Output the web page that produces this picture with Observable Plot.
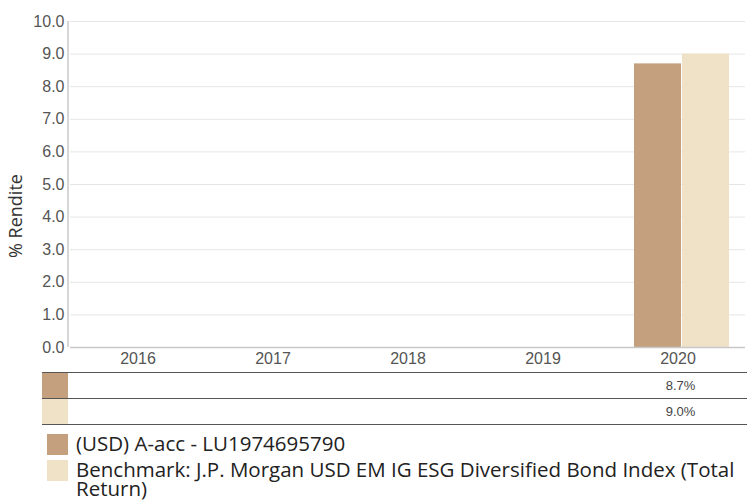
<!DOCTYPE html>
<html>
<head>
<meta charset="utf-8">
<script src="https://cdn.jsdelivr.net/npm/d3@7"></script>
<script src="https://cdn.jsdelivr.net/npm/@observablehq/plot@0.6"></script>
<style>
  body { margin: 0; background: #fff; }
  #wrap { position: relative; width: 747px; height: 503px; overflow: hidden; font-family: "Open Sans", sans-serif; }
  #chart svg { display: block; }
  #table { position: absolute; left: 42px; top: 372px; width: 705px; }
  .row { position: relative; height: 25px; border-top: 1.5px solid #555; }
  .row:last-child { border-bottom: 1.5px solid #555; }
  .sw { position: absolute; left: 0; top: 0; width: 26px; height: 25px; }
  .val { position: absolute; top: 0; height: 25px; line-height: 25px; font-family: "Liberation Sans", Arial, sans-serif; font-size: 13px; color: #444; text-align: center; }
  #legend { position: absolute; left: 47px; top: 434px; width: 700px; }
  .li { position: relative; padding-left: 29px; font-size: 20.5px; line-height: 19px; color: #222; margin-bottom: 7px; }
  .li .box { position: absolute; left: 0; top: 0px; width: 21px; height: 21px; }
</style>
</head>
<body>
<div id="wrap">
  <div id="chart"></div>
  <div id="table"></div>
  <div id="legend"></div>
</div>
<script>
const years = ["2016", "2017", "2018", "2019", "2020"];
const seriesNames = ["(USD) A-acc - LU1974695790", "Benchmark: J.P. Morgan USD EM IG ESG Diversified Bond Index (Total Return)"];
const fundValues = [null, null, null, null, 8.7];
const benchValues = [null, null, null, null, 9.0];
const colors = ["#c4a07f", "#efe2c6"];
const yTicks = [0, 1, 2, 3, 4, 5, 6, 7, 8, 9, 10];
const yLabel = "% Rendite";

const data = [];
years.forEach((y, i) => {
  if (fundValues[i] != null) data.push({year: y, series: seriesNames[0], value: fundValues[i]});
  if (benchValues[i] != null) data.push({year: y, series: seriesNames[1], value: benchValues[i]});
});
const gridData = years.flatMap(y => yTicks.map(t => ({year: y, t})));

const chart = Plot.plot({
  width: 747,
  height: 372,
  marginLeft: 68,
  marginRight: 0,
  marginTop: 21,
  marginBottom: 25,
  style: {fontFamily: "'Liberation Sans', Arial, sans-serif", fontSize: "16px", color: "#555"},
  fx: {domain: years, padding: 0, axis: "bottom", label: null, tickSize: 0, tickPadding: 5},
  x: {domain: seriesNames, paddingInner: 0.03, paddingOuter: 0.42, align: 0.6, axis: null},
  y: {domain: [0, 10], ticks: yTicks, tickFormat: d3.format(".1f"), label: null, tickSize: 0, tickPadding: 6},
  color: {domain: seriesNames, range: colors},
  marks: [
    Plot.ruleY(gridData, {fx: "year", y: "t", stroke: "#e6e6e6", strokeWidth: 1}),
    Plot.barY(data, {fx: "year", x: "series", y: "value", fill: "series"}),
    Plot.ruleY(years.map(y => ({year: y, t: 0})), {fx: "year", y: "t", stroke: "#c8c8c8", strokeWidth: 1.5})
  ]
});
document.getElementById("chart").appendChild(chart);

const svg = d3.select(chart);
const ys = chart.scale("y");
// left axis line
svg.append("line")
  .attr("x1", 68).attr("x2", 68)
  .attr("y1", ys.apply(10)).attr("y2", ys.apply(0))
  .attr("stroke", "#c8c8c8").attr("stroke-width", 1.5);
// y label
svg.append("text")
  .attr("transform", `translate(17,216) rotate(-90)`)
  .attr("text-anchor", "middle")
  .attr("dominant-baseline", "middle")
  .style("font-family", "'Open Sans', sans-serif").style("font-size", "18px").style("fill", "#333")
  .text(yLabel);

// table
const fxs = chart.scale("fx");
const table = document.getElementById("table");
[fundValues, benchValues].forEach((vals, si) => {
  const row = document.createElement("div");
  row.className = "row";
  const sw = document.createElement("div");
  sw.className = "sw";
  sw.style.background = colors[si];
  row.appendChild(sw);
  years.forEach((y, i) => {
    if (vals[i] == null) return;
    const v = document.createElement("div");
    v.className = "val";
    v.style.left = (fxs.apply(y) - 42 + 3) + "px";
    v.style.width = fxs.bandwidth + "px";
    v.textContent = d3.format(".1f")(vals[i]) + "%";
    row.appendChild(v);
  });
  table.appendChild(row);
});

// legend
const legend = document.getElementById("legend");
seriesNames.forEach((s, i) => {
  const li = document.createElement("div");
  li.className = "li";
  li.innerHTML = `<span class="box" style="background:${colors[i]}"></span>`;
  li.appendChild(document.createTextNode(s));
  legend.appendChild(li);
});
</script>
</body>
</html>
